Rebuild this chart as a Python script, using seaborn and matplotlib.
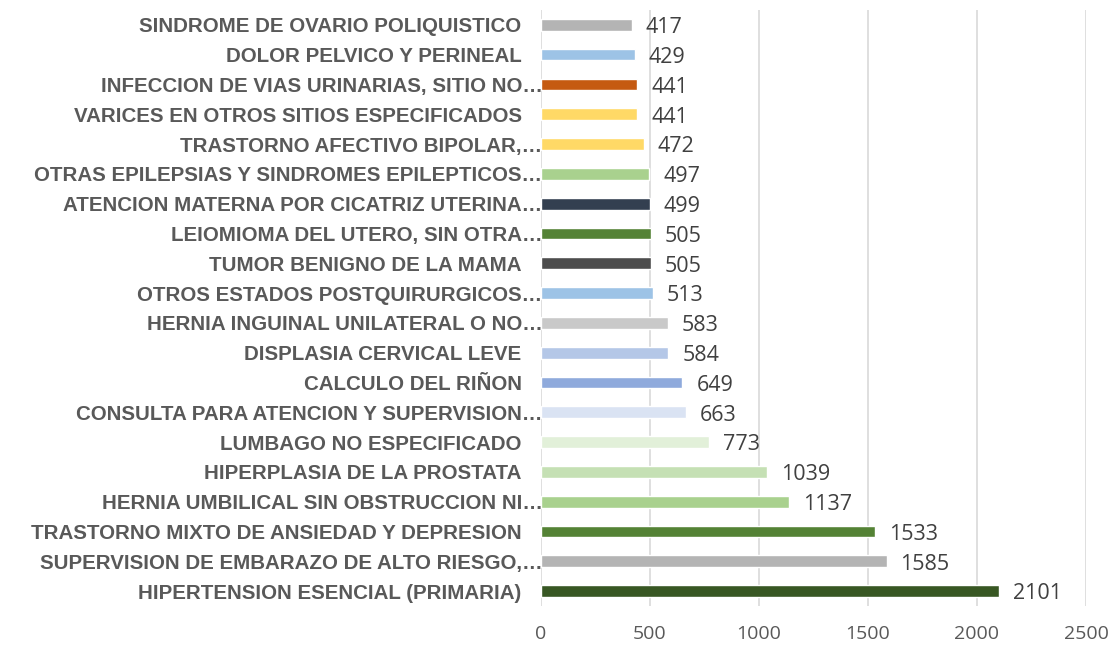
import matplotlib

matplotlib.use("Agg")

import matplotlib.pyplot as plt
import matplotlib.transforms as mtransforms
import pandas as pd
import seaborn as sns

# Categories top -> bottom, as they appear in the chart.
categories = [
    "SINDROME DE OVARIO POLIQUISTICO",
    "DOLOR PELVICO Y PERINEAL",
    "INFECCION DE VIAS URINARIAS, SITIO NO…",
    "VARICES EN OTROS SITIOS ESPECIFICADOS",
    "TRASTORNO AFECTIVO BIPOLAR,…",
    "OTRAS EPILEPSIAS Y SINDROMES EPILEPTICOS…",
    "ATENCION MATERNA POR CICATRIZ UTERINA…",
    "LEIOMIOMA DEL UTERO, SIN OTRA…",
    "TUMOR BENIGNO DE LA MAMA",
    "OTROS ESTADOS POSTQUIRURGICOS…",
    "HERNIA INGUINAL UNILATERAL O NO…",
    "DISPLASIA CERVICAL LEVE",
    "CALCULO DEL RIÑON",
    "CONSULTA PARA ATENCION Y SUPERVISION…",
    "LUMBAGO NO ESPECIFICADO",
    "HIPERPLASIA DE LA PROSTATA",
    "HERNIA UMBILICAL SIN OBSTRUCCION NI…",
    "TRASTORNO MIXTO DE ANSIEDAD Y DEPRESION",
    "SUPERVISION DE EMBARAZO DE ALTO RIESGO,…",
    "HIPERTENSION ESENCIAL (PRIMARIA)",
]
counts = [417, 429, 441, 441, 472, 497, 499, 505, 505, 513,
          583, 584, 649, 663, 773, 1039, 1137, 1533, 1585, 2101]
bar_colors = [
    "#B4B4B4", "#9DC3E6", "#C55A11", "#FFD966", "#FFD966",
    "#A9D18E", "#333F50", "#548235", "#4D4D4D", "#9DC3E6",
    "#C9C9C9", "#B4C7E7", "#8FAADC", "#DAE3F3", "#E2F0D9",
    "#C5E0B4", "#A9D18E", "#548235", "#B4B4B4", "#385723",
]
x_ticks = [0, 500, 1000, 1500, 2000, 2500]

df = pd.DataFrame({"diagnostico": categories, "n": counts})

sns.set_style("white")
plt.rcParams["font.family"] = ["Liberation Sans", "DejaVu Sans"]

fig = plt.figure(figsize=(11.12, 6.48), dpi=100)
ax = fig.add_axes([0.4865, 0.0648, 0.4901, 0.9198])

sns.barplot(
    data=df, x="n", y="diagnostico", hue="diagnostico",
    palette=bar_colors, order=categories, hue_order=categories,
    orient="h", width=0.39, saturation=1, legend=False, ax=ax,
)

for cont in ax.containers:
    for ann in ax.bar_label(cont, fmt="%d", padding=10, fontsize=15.5,
                            color="#404040", family=["Open Sans", "DejaVu Sans"]):
        # Excel sets the value label a touch below the bar centre
        ann.xyann = (ann.xyann[0], -2)

ax.set_xlim(0, 2500)
ax.set_ylim(len(categories) - 0.5, -0.5)
ax.set_xticks(x_ticks)
ax.set_xticklabels([str(t) for t in x_ticks], fontsize=14, color="#595959",
                   family=["Open Sans", "DejaVu Sans"])
ax.tick_params(axis="x", length=0, pad=14)
ax.tick_params(axis="y", length=0, pad=14)
shift = mtransforms.ScaledTranslation(15 / 72, 0, fig.dpi_scale_trans)
for lbl in ax.get_yticklabels():
    lbl.set_fontsize(14.8)
    lbl.set_fontweight("bold")
    lbl.set_color("#595959")
    # truncated labels run right up to the axis in the original
    if lbl.get_text().endswith("…"):
        lbl.set_transform(lbl.get_transform() + shift)

ax.grid(axis="x", color="#D9D9D9", lw=1.2)
ax.set_axisbelow(True)
for s in ax.spines.values():
    s.set_visible(False)
ax.set_xlabel("")
ax.set_ylabel("")

fig.savefig("out.png", dpi=100, facecolor="white")
